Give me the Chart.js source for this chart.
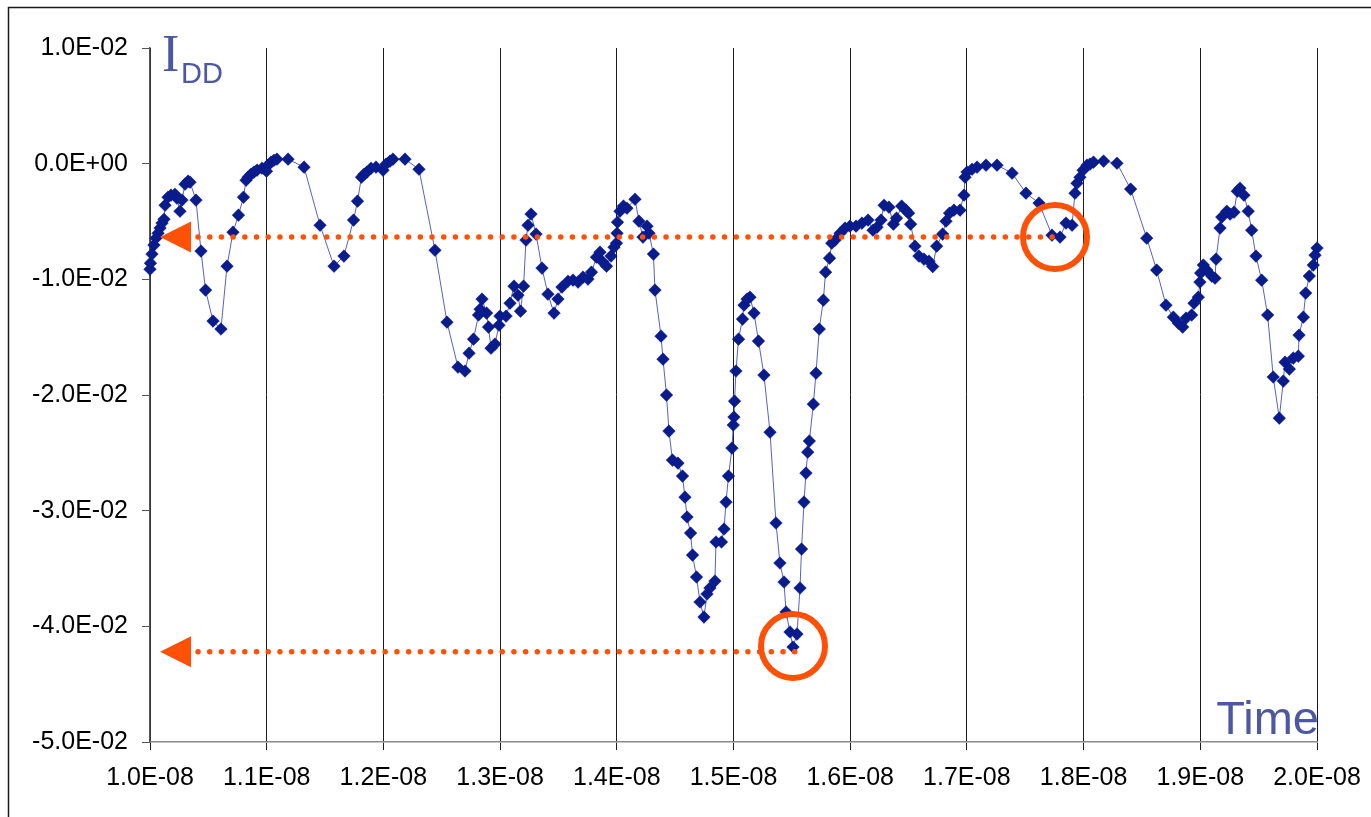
<!DOCTYPE html>
<html>
<head>
<meta charset="utf-8">
<script src="https://cdn.jsdelivr.net/npm/chart.js@4.4.0/dist/chart.umd.min.js"></script>
<style>
  html, body { margin: 0; padding: 0; background: #fff; overflow: hidden; }
  #wrap { position: relative; width: 1371px; height: 817px; }
  canvas { display: block; }
</style>
</head>
<body>
<div id="wrap"><canvas id="chart" width="1371" height="817"></canvas></div>
<script>
// Supply current I_DD over time. Time in ns, current in mA (axis labels are shown in s and A).
const timeNs = [
  10.000,10.004,10.017,10.034,10.051,10.069,10.086,10.103,10.120,10.129,
  10.154,10.180,10.214,10.231,10.257,10.274,10.300,10.326,10.343,10.394,
  10.437,10.476,10.540,10.608,10.660,10.711,10.758,10.801,10.823,10.840,
  10.865,10.891,10.917,10.960,10.998,11.011,11.037,11.063,11.088,11.183,
  11.320,11.457,11.577,11.662,11.744,11.778,11.812,11.834,11.859,11.894,
  11.937,11.997,12.022,12.057,12.082,12.185,12.305,12.442,12.545,12.639,
  12.699,12.734,12.772,12.815,12.828,12.845,12.884,12.901,12.922,12.956,
  12.991,12.999,13.051,13.085,13.119,13.153,13.175,13.201,13.222,13.239,
  13.265,13.308,13.359,13.410,13.462,13.496,13.530,13.582,13.625,13.668,
  13.710,13.753,13.783,13.826,13.856,13.873,13.912,13.950,13.976,13.997,
  14.002,14.006,14.027,14.057,14.087,14.156,14.190,14.224,14.259,14.276,
  14.314,14.327,14.379,14.396,14.426,14.447,14.477,14.524,14.563,14.584,
  14.602,14.632,14.649,14.683,14.713,14.747,14.773,14.798,14.841,14.850,
  14.897,14.919,14.936,14.957,14.987,14.998,15.004,15.009,15.021,15.043,
  15.077,15.090,15.116,15.141,15.176,15.214,15.261,15.313,15.364,15.398,
  15.433,15.450,15.484,15.510,15.544,15.570,15.583,15.604,15.621,15.636,
  15.650,15.684,15.707,15.735,15.770,15.789,15.823,15.842,15.870,15.913,
  15.956,15.998,16.050,16.101,16.153,16.195,16.230,16.264,16.290,16.332,
  16.370,16.397,16.441,16.478,16.500,16.518,16.555,16.589,16.632,16.675,
  16.707,16.741,16.792,16.821,16.851,16.889,16.941,16.975,16.984,17.001,
  17.044,17.087,17.164,17.258,17.387,17.506,17.618,17.729,17.798,17.849,
  17.901,17.926,17.943,17.969,17.995,18.029,18.055,18.085,18.171,18.286,
  18.403,18.541,18.626,18.706,18.769,18.812,18.849,18.878,18.926,18.946,
  18.983,18.997,19.003,19.026,19.055,19.098,19.126,19.135,19.169,19.184,
  19.227,19.255,19.289,19.317,19.340,19.374,19.411,19.440,19.477,19.526,
  19.577,19.625,19.677,19.711,19.726,19.763,19.797,19.840,19.846,19.883,
  19.903,19.934,19.968,19.983,20.000
];

const iddMilliAmp = [
  -9.12,-8.60,-7.82,-7.04,-6.44,-6.01,-5.57,-5.14,-4.80,-3.59,
  -2.90,-2.72,-2.64,-2.98,-4.11,-3.15,-1.77,-1.51,-1.60,-3.15,
  -7.56,-10.93,-13.61,-14.30,-8.86,-5.92,-4.45,-2.90,-1.43,-1.17,
  -0.91,-0.73,-0.56,-0.39,-0.65,-0.13,0.13,0.30,0.39,0.39,
  -0.30,-5.32,-8.86,-7.99,-4.88,-3.24,-1.17,-0.91,-0.73,-0.39,
  -0.30,-0.56,-0.04,0.22,0.39,0.39,-0.48,-7.48,-13.70,-17.59,
  -17.93,-16.38,-15.17,-13.09,-12.58,-11.71,-12.92,-14.13,-15.95,-15.60,
  -13.96,-13.18,-13.18,-12.06,-10.59,-11.37,-12.75,-10.59,-6.61,-5.32,
  -4.36,-6.09,-9.03,-11.28,-12.92,-11.71,-10.67,-10.16,-10.07,-10.24,
  -9.81,-9.98,-9.38,-8.08,-7.65,-8.43,-8.86,-7.99,-7.22,-6.87,
  -6.01,-5.06,-4.11,-3.67,-3.85,-3.07,-4.97,-6.35,-5.40,-6.01,
  -7.82,-10.93,-14.91,-16.90,-20.01,-23.12,-25.63,-25.89,-27.01,-28.83,
  -30.55,-31.94,-33.84,-35.74,-37.90,-39.20,-37.21,-36.69,-36.09,-32.71,
  -32.71,-31.59,-29.26,-27.01,-24.59,-22.60,-21.91,-20.53,-17.93,-15.17,
  -13.44,-12.23,-11.71,-11.54,-12.92,-15.34,-18.28,-23.21,-31.07,-34.53,
  -36.17,-38.76,-40.49,-41.79,-40.67,-36.69,-33.32,-29.26,-26.75,-24.94,
  -23.98,-20.79,-18.11,-14.30,-11.80,-9.38,-8.17,-6.87,-6.61,-6.01,
  -5.57,-5.40,-5.40,-5.14,-4.88,-5.75,-5.49,-4.88,-3.59,-3.76,
  -5.23,-4.71,-3.67,-4.02,-4.28,-5.23,-7.13,-7.99,-8.25,-8.43,
  -8.90,-7.13,-6.09,-4.97,-4.28,-4.02,-4.02,-2.72,-1.17,-0.73,
  -0.48,-0.30,-0.13,-0.13,-0.82,-2.55,-3.41,-6.18,-6.35,-5.14,
  -5.32,-2.55,-1.69,-1.17,-0.56,-0.13,-0.04,0.13,0.22,0.04,
  -2.20,-6.44,-9.20,-12.23,-13.27,-13.79,-14.13,-13.35,-13.09,-12.06,
  -11.54,-10.24,-9.46,-8.77,-9.20,-9.72,-9.90,-8.25,-5.57,-4.62,
  -4.11,-4.36,-4.19,-2.38,-2.12,-2.72,-4.11,-5.75,-7.99,-10.07,
  -13.09,-18.45,-22.00,-18.80,-17.16,-17.76,-16.81,-16.64,-14.82,-13.27,
  -11.19,-9.72,-8.77,-7.91,-7.30
];

// Axis tick labels
const timeTickLabels = ['1.0E-08','1.1E-08','1.2E-08','1.3E-08','1.4E-08','1.5E-08',
                        '1.6E-08','1.7E-08','1.8E-08','1.9E-08','2.0E-08'];
const currentTickLabels = ['-5.0E-02','-4.0E-02','-3.0E-02','-2.0E-02','-1.0E-02','0.0E+00','1.0E-02'];

// Reference levels read back to the current axis (arrow tip time, dotted line end time, level)
const guideTipNs   = [10.086, 10.086];
const guideEndNs   = [17.77, 15.55];
const guideLevelMA = [-6.35, -42.2];
// Highlighted samples (ring centres)
const ringNs = [17.755, 15.51];
const ringMA = [-6.35, -41.7];

const ORANGE = '#FF5008';
const TITLE_BLUE = '#4E58A2';

const points = timeNs.map((t, i) => ({ x: t, y: iddMilliAmp[i] }));

const framePlugin = {
  id: 'frame',
  beforeDraw(chart) {
    const ctx = chart.ctx;
    ctx.save();
    ctx.fillStyle = '#fff';
    ctx.fillRect(0, 0, chart.width, chart.height);
    ctx.strokeStyle = '#1a1a1a';
    ctx.lineWidth = 1.5;
    ctx.beginPath();
    ctx.moveTo(8.5, chart.height);
    ctx.lineTo(8.5, 7.5);
    ctx.lineTo(chart.width, 7.5);
    ctx.stroke();
    ctx.restore();
  }
};

const markupPlugin = {
  id: 'markup',
  afterDatasetsDraw(chart) {
    const ctx = chart.ctx;
    const xs = chart.scales.x, ys = chart.scales.y;
    ctx.save();
    // dotted guides with arrowheads
    guideLevelMA.forEach((lvl, i) => {
      const y = ys.getPixelForValue(lvl);
      const tip = xs.getPixelForValue(guideTipNs[i]);
      const end = xs.getPixelForValue(guideEndNs[i]);
      ctx.fillStyle = ORANGE;
      ctx.beginPath();
      ctx.moveTo(tip, y);
      ctx.lineTo(tip + 31, y - 15.5);
      ctx.lineTo(tip + 31, y + 15.5);
      ctx.closePath();
      ctx.fill();
      ctx.strokeStyle = ORANGE;
      ctx.lineWidth = 5.5;
      ctx.lineCap = 'round';
      ctx.setLineDash([0, 11.7]);
      ctx.beginPath();
      ctx.moveTo(tip + 38, y);
      ctx.lineTo(end, y);
      ctx.stroke();
      ctx.setLineDash([]);
    });
    // rings
    ringNs.forEach((t, i) => {
      ctx.strokeStyle = ORANGE;
      ctx.lineWidth = 6;
      ctx.beginPath();
      ctx.arc(xs.getPixelForValue(t), ys.getPixelForValue(ringMA[i]), 32, 0, Math.PI * 2);
      ctx.stroke();
    });
    ctx.restore();
  },
  afterDraw(chart) {
    const ctx = chart.ctx;
    ctx.save();
    ctx.fillStyle = TITLE_BLUE;
    ctx.textBaseline = 'alphabetic';
    ctx.textAlign = 'left';
    ctx.font = '52px "Liberation Serif", "DejaVu Serif", serif';
    ctx.fillText('I', 162, 71);
    ctx.font = '29px "Liberation Sans", Arial, sans-serif';
    ctx.fillText('DD', 181, 83);
    ctx.textAlign = 'right';
    ctx.font = '47px "Liberation Sans", Arial, sans-serif';
    ctx.fillText('Time', 1319, 734);
    ctx.restore();
  }
};

const tickFont = { family: '"Liberation Sans", Arial, sans-serif', size: 25 };

new Chart(document.getElementById('chart'), {
  type: 'line',
  data: {
    datasets: [{
      data: points,
      borderColor: '#5664BE',
      borderWidth: 1,
      tension: 0,
      pointStyle: 'rectRot',
      pointRadius: 6.3,
      pointBackgroundColor: '#0A1B8C',
      pointBorderColor: '#0A1B8C',
      pointBorderWidth: 0.5,
      clip: false
    }]
  },
  options: {
    responsive: false,
    devicePixelRatio: 1,
    animation: false,
    layout: { padding: { top: 48, right: 54, left: 0, bottom: 0 } },
    plugins: { legend: { display: false }, tooltip: { enabled: false } },
    scales: {
      x: {
        type: 'linear',
        min: 10, max: 20,
        afterFit(scale) {
          scale.height = 75;
          scale.paddingLeft = 0;
          scale.paddingRight = 0;
        },
        ticks: {
          stepSize: 1,
          autoSkip: false,
          maxRotation: 0,
          color: '#000',
          font: tickFont,
          padding: 13,
          callback: (v, i) => timeTickLabels[i]
        },
        grid: { color: '#1c1c1c', lineWidth: 1, tickLength: 8, drawOnChartArea: true },
        border: { color: '#8a8a8a', width: 1.5 }
      },
      y: {
        type: 'linear',
        min: -50, max: 10,
        afterFit(scale) {
          scale.width = 150;
          scale.paddingTop = 0;
          scale.paddingBottom = 0;
        },
        ticks: {
          stepSize: 10,
          autoSkip: false,
          color: '#000',
          font: tickFont,
          padding: 14,
          callback: (v, i) => currentTickLabels[i]
        },
        grid: { drawOnChartArea: false, tickLength: 8, color: '#555' },
        border: { color: '#555', width: 1.5 }
      }
    }
  },
  plugins: [framePlugin, markupPlugin]
});
</script>
</body>
</html>
